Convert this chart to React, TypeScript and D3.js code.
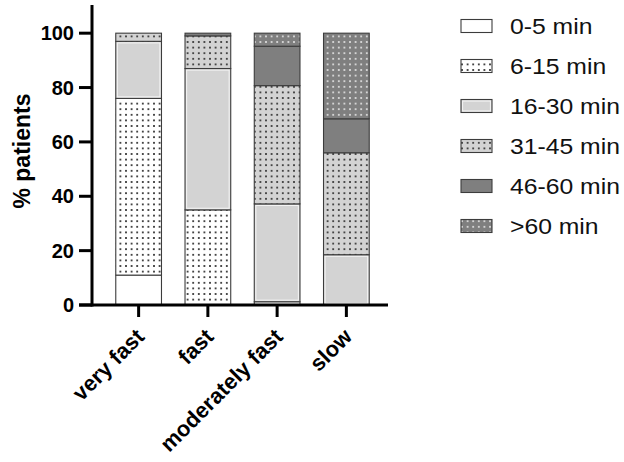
import * as d3 from 'd3';

const categories = ['very fast', 'fast', 'moderately fast', 'slow'];
const seriesNames = ['0-5 min', '6-15 min', '16-30 min', '31-45 min', '46-60 min', '>60 min'];
const min0to5 = [11, 0, 0, 0];
const min6to15 = [65, 35, 1.2, 0];
const min16to30 = [21, 52, 36, 18.5];
const min31to45 = [3, 12, 43.5, 37.5];
const min46to60 = [0, 1, 14.5, 12.5];
const over60 = [0, 0, 4.8, 31.5];
const yTicks = [0, 20, 40, 60, 80, 100];
const yTitle = '% patients';

const seriesValues = [min0to5, min6to15, min16to30, min31to45, min46to60, over60];
const fills = ['#ffffff', 'url(#dotsWhite)', '#d3d3d3', 'url(#dotsGray)', '#7f7f7f', 'url(#dotsDark)'];

const W = 624;
const H = 462;
const axisX = 92;
const axisBottom = 305;
const font = 'Arial, "Liberation Sans", sans-serif';

export default function App() {
  const rows = categories.map((c, i) => {
    const r: Record<string, number | string> = { cat: c };
    seriesNames.forEach((s, j) => (r[s] = seriesValues[j][i]));
    return r;
  });
  const stacked = d3.stack<any>().keys(seriesNames)(rows);

  const x = d3.scaleBand<string>()
    .domain(categories)
    .range([104, 381])
    .paddingInner(0.34)
    .paddingOuter(0.17);
  const y = d3.scaleLinear().domain([0, 110]).range([axisBottom, 6]);

  const legendY = d3.scalePoint<string>()
    .domain(seriesNames)
    .range([26, 226]);

  const dotPattern = (id: string, bg: string, dot: string) => (
    <pattern id={id} patternUnits="userSpaceOnUse" width={5.6} height={5.6}>
      <rect width={5.6} height={5.6} fill={bg} />
      <rect x={2} y={2} width={1.6} height={1.6} fill={dot} />
    </pattern>
  );

  return (
    <svg width={W} height={H} style={{ position: 'absolute', left: 0, top: 0, background: '#fff' }}>
      <defs>
        {dotPattern('dotsWhite', '#ffffff', '#000')}
        {dotPattern('dotsGray', '#d3d3d3', '#111')}
        {dotPattern('dotsDark', '#7f7f7f', '#f4f4f4')}
      </defs>

      {/* stacked bars */}
      {stacked.map((layer, si) => (
        <g key={layer.key}>
          {layer.map((d, ci) => {
            const h = y(d[0]) - y(d[1]);
            if (h <= 0) return null;
            const bx = x(categories[ci])!;
            return (
              <g key={ci}>
                <rect x={bx} y={y(d[1])} width={x.bandwidth()} height={h}
                  fill={fills[si]} stroke="#3c3c3c" strokeWidth={1.1} />
                {si === 2 && h > 4 && (
                  <rect x={bx + 1.6} y={y(d[1]) + 1.6} width={x.bandwidth() - 3.2} height={h - 3.2}
                    fill="none" stroke="#f4f4f4" strokeWidth={1} />
                )}
              </g>
            );
          })}
        </g>
      ))}

      {/* y axis */}
      <line x1={axisX} x2={axisX} y1={5} y2={axisBottom + 1.5} stroke="#000" strokeWidth={3} />
      {yTicks.map((t) => (
        <g key={t}>
          <line x1={79} x2={axisX} y1={y(t)} y2={y(t)} stroke="#000" strokeWidth={3} />
          <text x={74} y={y(t)} dy="0.36em" textAnchor="end" fontFamily={font}
            fontWeight="bold" fontSize={20} fill="#000">{t}</text>
        </g>
      ))}
      <text transform={`translate(30,151) rotate(-90)`} textAnchor="middle" fontFamily={font}
        fontWeight="bold" fontSize={23} fill="#000">{yTitle}</text>

      {/* x axis */}
      <line x1={79} x2={388} y1={axisBottom} y2={axisBottom} stroke="#000" strokeWidth={3} />
      {categories.map((c) => {
        const cx = x(c)! + x.bandwidth() / 2;
        return (
          <g key={c}>
            <line x1={cx} x2={cx} y1={axisBottom} y2={axisBottom + 12} stroke="#000" strokeWidth={3} />
            <text transform={`translate(${cx + 7},${axisBottom + 33}) rotate(-45)`} textAnchor="end"
              fontFamily={font} fontWeight="bold" fontSize={22} fill="#000">{c}</text>
          </g>
        );
      })}

      {/* legend */}
      {seriesNames.map((s, si) => {
        const ly = legendY(s)!;
        return (
          <g key={s}>
            <rect x={461} y={ly - 6.5} width={31} height={13} fill={fills[si]} stroke="#3c3c3c" strokeWidth={1.1} />
            {si === 2 && (
              <rect x={462.6} y={ly - 4.9} width={27.8} height={9.8} fill="none" stroke="#f4f4f4" strokeWidth={1} />
            )}
            <text transform={`translate(510,${ly}) scale(1.15,1)`} dy="0.36em" fontFamily={font}
              fontSize={21.5} fill="#111">{s}</text>
          </g>
        );
      })}
    </svg>
  );
}
